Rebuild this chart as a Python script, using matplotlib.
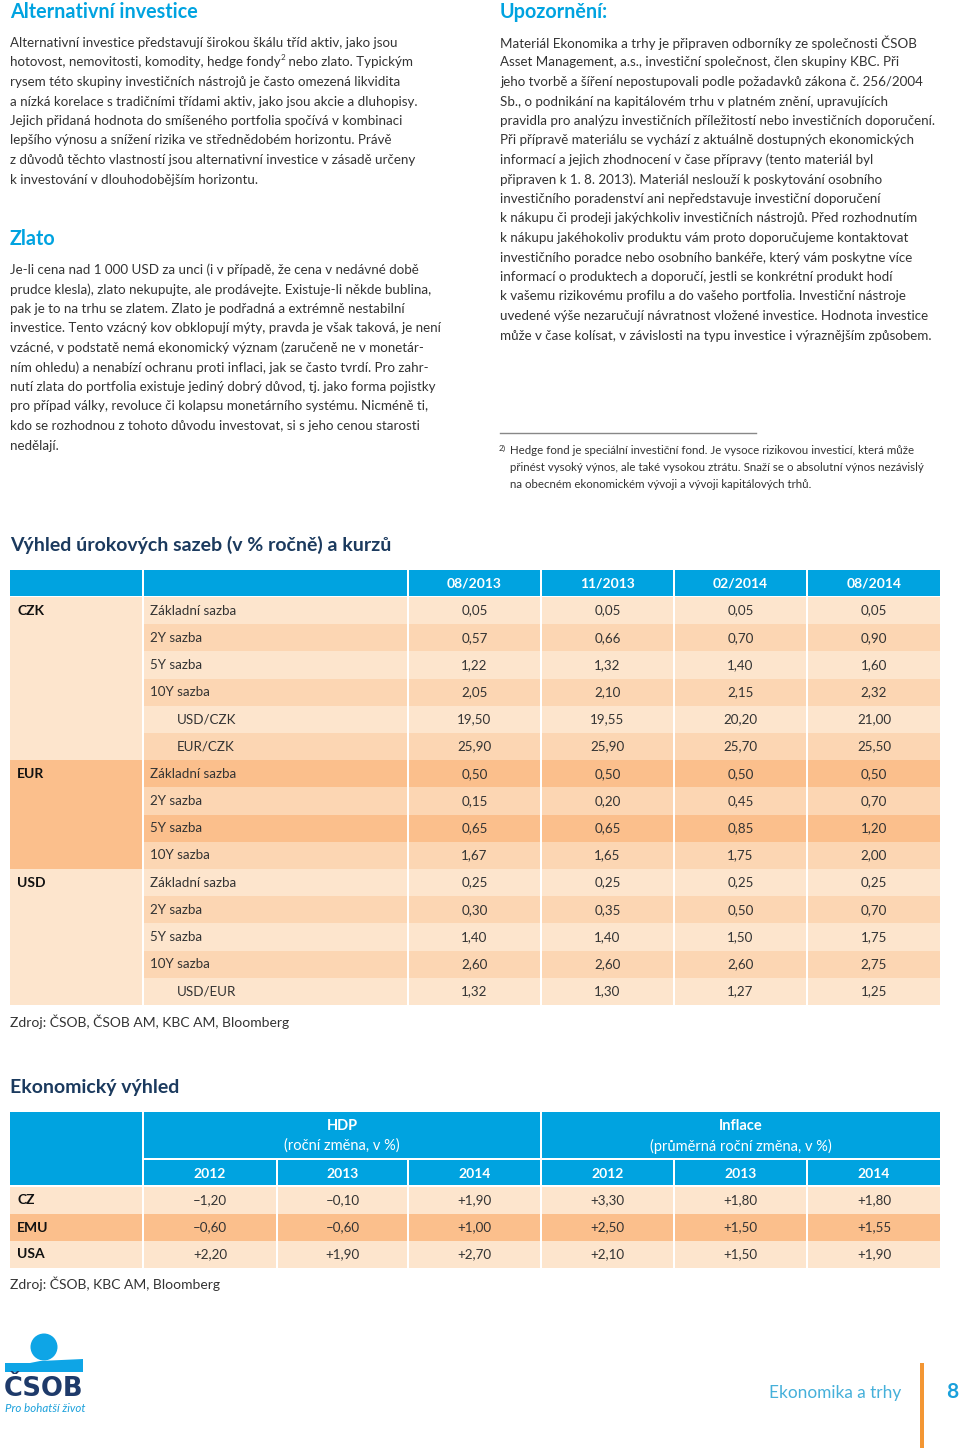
import matplotlib
matplotlib.use('Agg')
import matplotlib.pyplot as plt
from matplotlib.patches import Rectangle, Circle, Polygon

plt.rcParams['font.family'] = ['Lato', 'DejaVu Sans']

BLUE = '#00a3e0'
NAVY = '#1b3a5e'
TEXT = '#333333'
LIGHT = '#fde5cd'
MID = '#fcd6b3'
DARK = '#fbbf8c'

# ---- text blocks ----
alt_title = 'Alternativní investice'
alt_lines = [
    'Alternativní investice představují širokou škálu tříd aktiv, jako jsou',
    ('hotovost, nemovitosti, komodity, hedge fondy', '2', ' nebo zlato. Typickým'),
    'rysem této skupiny investičních nástrojů je často omezená likvidita',
    'a nízká korelace s tradičními třídami aktiv, jako jsou akcie a dluhopisy.',
    'Jejich přidaná hodnota do smíšeného portfolia spočívá v kombinaci',
    'lepšího výnosu a snížení rizika ve střednědobém horizontu. Právě',
    'z důvodů těchto vlastností jsou alternativní investice v zásadě určeny',
    'k investování v dlouhodobějším horizontu.',
]
zlato_title = 'Zlato'
zlato_lines = [
    'Je-li cena nad 1 000 USD za unci (i v případě, že cena v nedávné době',
    'prudce klesla), zlato nekupujte, ale prodávejte. Existuje-li někde bublina,',
    'pak je to na trhu se zlatem. Zlato je podřadná a extrémně nestabilní',
    'investice. Tento vzácný kov obklopují mýty, pravda je však taková, je není',
    'vzácné, v podstatě nemá ekonomický význam (zaručeně ne v monetár-',
    'ním ohledu) a nenabízí ochranu proti inflaci, jak se často tvrdí. Pro zahr-',
    'nutí zlata do portfolia existuje jediný dobrý důvod, tj. jako forma pojistky',
    'pro případ války, revoluce či kolapsu monetárního systému. Nicméně ti,',
    'kdo se rozhodnou z tohoto důvodu investovat, si s jeho cenou starosti',
    'nedělají.',
]
warn_title = 'Upozornění:'
warn_lines = [
    'Materiál Ekonomika a trhy je připraven odborníky ze společnosti ČSOB',
    'Asset Management, a.s., investiční společnost, člen skupiny KBC. Při',
    'jeho tvorbě a šíření nepostupovali podle požadavků zákona č. 256/2004',
    'Sb., o podnikání na kapitálovém trhu v platném znění, upravujících',
    'pravidla pro analýzu investičních příležitostí nebo investičních doporučení.',
    'Při přípravě materiálu se vychází z aktuálně dostupných ekonomických',
    'informací a jejich zhodnocení v čase přípravy (tento materiál byl',
    'připraven k 1. 8. 2013). Materiál neslouží k poskytování osobního',
    'investičního poradenství ani nepředstavuje investiční doporučení',
    'k nákupu či prodeji jakýchkoliv investičních nástrojů. Před rozhodnutím',
    'k nákupu jakéhokoliv produktu vám proto doporučujeme kontaktovat',
    'investičního poradce nebo osobního bankéře, který vám poskytne více',
    'informací o produktech a doporučí, jestli se konkrétní produkt hodí',
    'k vašemu rizikovému profilu a do vašeho portfolia. Investiční nástroje',
    'uvedené výše nezaručují návratnost vložené investice. Hodnota investice',
    'může v čase kolísat, v závislosti na typu investice i výraznějším způsobem.',
]
note_mark = '2)'
note_lines = [
    'Hedge fond je speciální investiční fond. Je vysoce rizikovou investicí, která může',
    'přinést vysoký výnos, ale také vysokou ztrátu. Snaží se o absolutní výnos nezávislý',
    'na obecném ekonomickém vývoji a vývoji kapitálových trhů.',
]

# ---- table 1: interest rates ----
rates_title = 'Výhled úrokových sazeb (v % ročně) a kurzů'
rates_dates = ['08/2013', '11/2013', '02/2014', '08/2014']
rates_groups = ['CZK', 'EUR', 'USD']
rates_labels = [
    ['Základní sazba', '2Y sazba', '5Y sazba', '10Y sazba', 'USD/CZK', 'EUR/CZK'],
    ['Základní sazba', '2Y sazba', '5Y sazba', '10Y sazba'],
    ['Základní sazba', '2Y sazba', '5Y sazba', '10Y sazba', 'USD/EUR'],
]
rates_czk = [[0.05, 0.05, 0.05, 0.05], [0.57, 0.66, 0.70, 0.90], [1.22, 1.32, 1.40, 1.60],
             [2.05, 2.10, 2.15, 2.32], [19.50, 19.55, 20.20, 21.00], [25.90, 25.90, 25.70, 25.50]]
rates_eur = [[0.50, 0.50, 0.50, 0.50], [0.15, 0.20, 0.45, 0.70], [0.65, 0.65, 0.85, 1.20],
             [1.67, 1.65, 1.75, 2.00]]
rates_usd = [[0.25, 0.25, 0.25, 0.25], [0.30, 0.35, 0.50, 0.70], [1.40, 1.40, 1.50, 1.75],
             [2.60, 2.60, 2.60, 2.75], [1.32, 1.30, 1.27, 1.25]]
rates_source = 'Zdroj: ČSOB, ČSOB AM, KBC AM, Bloomberg'

# ---- table 2: economic outlook ----
econ_title = 'Ekonomický výhled'
econ_years = ['2012', '2013', '2014']
econ_rows = ['CZ', 'EMU', 'USA']
hdp = [[-1.20, -0.10, 1.90], [-0.60, -0.60, 1.00], [2.20, 1.90, 2.70]]
inflace = [[3.30, 1.80, 1.80], [2.50, 1.50, 1.55], [2.10, 1.50, 1.90]]
econ_source = 'Zdroj: ČSOB, KBC AM, Bloomberg'


def fmt(v, sign=False):
    s = '{:.2f}'.format(abs(v)).replace('.', ',')
    if sign:
        return ('\u2013' if v < 0 else '+') + s
    return s


fig = plt.figure(figsize=(9.6, 14.48), dpi=100)
ax = fig.add_axes([0, 0, 1, 1])
ax.set_xlim(0, 960)
ax.set_ylim(1448, 0)
ax.axis('off')
renderer = fig.canvas.get_renderer()

BODY = 9.6


def pieces(x, y, parts, size=BODY, color=TEXT):
    # draws text parts one after another, odd parts as superscript
    for i, p in enumerate(parts):
        sup = i % 2 == 1
        t = ax.text(x, y - (5 if sup else 0), p, fontsize=size * (0.6 if sup else 1),
                    color=color, va='center', ha='left')
        x += t.get_window_extent(renderer).width


def para(x, y0, lines, step=19.5, size=BODY):
    for i, ln in enumerate(lines):
        y = y0 + i * step
        if isinstance(ln, tuple):
            pieces(x, y, ln, size)
        else:
            ax.text(x, y, ln, fontsize=size, color=TEXT, va='center', ha='left')


ax.text(10, 12, alt_title, fontsize=14.2, fontweight='bold', color=BLUE, va='center')
para(10, 43, alt_lines)
ax.text(10, 239, zlato_title, fontsize=14.2, fontweight='bold', color=BLUE, va='center')
para(10, 270, zlato_lines)
ax.text(500, 12, warn_title, fontsize=14.2, fontweight='bold', color=BLUE, va='center')
para(500, 43, warn_lines)

ax.plot([500, 756], [433, 433], color='#888888', lw=1)
ax.text(499, 448, note_mark, fontsize=6, color=TEXT, va='center')
para(510, 451, note_lines, step=16.6, size=8.3)

# ---- table 1 ----
ax.text(10, 545, rates_title, fontsize=14, fontweight='bold', color=NAVY, va='center')
col_x = [10, 144, 409, 542, 675, 808]
col_w = [132, 263, 131, 131, 131, 132]
hdr_y, hdr_h = 570, 26
row_h = 27.2
for cx, cw in zip(col_x, col_w):
    ax.add_patch(Rectangle((cx, hdr_y), cw, hdr_h, color=BLUE, lw=0))
for j, d in enumerate(rates_dates):
    ax.text(col_x[j + 2] + col_w[j + 2] / 2, hdr_y + hdr_h / 2 + 1, d, fontsize=10,
            fontweight='bold', color='white', ha='center', va='center')

values = [rates_czk, rates_eur, rates_usd]
group_color = [LIGHT, DARK, LIGHT]
y = hdr_y + hdr_h + 1
for g, grp in enumerate(rates_groups):
    n = len(rates_labels[g])
    ax.add_patch(Rectangle((col_x[0], y), col_w[0], n * row_h, color=group_color[g], lw=0))
    ax.text(17, y + row_h / 2, grp, fontsize=10, fontweight='bold', color='#111111', va='center')
    for r in range(n):
        ry = y + r * row_h
        c = group_color[g] if r % 2 == 0 else MID
        for k in range(1, 6):
            ax.add_patch(Rectangle((col_x[k], ry), col_w[k], row_h, color=c, lw=0))
        lab = rates_labels[g][r]
        lx = 177 if '/' in lab else 150
        ax.text(lx, ry + row_h / 2, lab, fontsize=BODY, color=TEXT, va='center')
        for j, v in enumerate(values[g][r]):
            ax.text(col_x[j + 2] + col_w[j + 2] / 2, ry + row_h / 2, fmt(v), fontsize=BODY,
                    color=TEXT, ha='center', va='center')
    y += n * row_h
ax.text(10, y + 17, rates_source, fontsize=BODY + 0.4, color=TEXT, va='center')

# ---- table 2 ----
ax.text(10, 1087, econ_title, fontsize=14, fontweight='bold', color=NAVY, va='center')
e_x = [10, 144, 278, 409, 542, 675, 808]
e_w = [132, 132, 129, 131, 131, 131, 132]
top_y, top_h = 1112, 46
yr_y, yr_h = 1160, 25
ax.add_patch(Rectangle((e_x[0], top_y), e_w[0], top_h + 2 + yr_h, color=BLUE, lw=0))
ax.add_patch(Rectangle((144, top_y), 396, top_h, color=BLUE, lw=0))
ax.add_patch(Rectangle((542, top_y), 398, top_h, color=BLUE, lw=0))
for cx, cap, sub in [(342, 'HDP', '(roční změna, v %)'),
                     (741, 'Inflace', '(průměrná roční změna, v %)')]:
    ax.text(cx, 1126, cap, fontsize=10.5, fontweight='bold', color='white', ha='center', va='center')
    ax.text(cx, 1146, sub, fontsize=10.5, color='white', ha='center', va='center')
for k in range(1, 7):
    ax.add_patch(Rectangle((e_x[k], yr_y), e_w[k], yr_h, color=BLUE, lw=0))
    ax.text(e_x[k] + e_w[k] / 2, yr_y + yr_h / 2 + 1, econ_years[(k - 1) % 3], fontsize=10,
            fontweight='bold', color='white', ha='center', va='center')
er_h = 27
for r, name in enumerate(econ_rows):
    ry = yr_y + yr_h + 2 + r * er_h
    c = DARK if r == 1 else LIGHT
    for k in range(7):
        ax.add_patch(Rectangle((e_x[k], ry), e_w[k], er_h, color=c, lw=0))
    ax.text(17, ry + er_h / 2, name, fontsize=10, fontweight='bold', color='#111111', va='center')
    for j, v in enumerate(hdp[r] + inflace[r]):
        ax.text(e_x[j + 1] + e_w[j + 1] / 2, ry + er_h / 2, fmt(v, True), fontsize=BODY,
                color=TEXT, ha='center', va='center')
ax.text(10, 1284, econ_source, fontsize=BODY + 0.4, color=TEXT, va='center')

# ---- logo and footer ----
ax.add_patch(Circle((44, 1347), 13.5, color='#0ea5e6', lw=0))
ax.add_patch(Polygon([(5, 1363), (30, 1363), (40, 1361), (83, 1359), (83, 1372), (5, 1372)],
                     closed=True, color='#0ea5e6', lw=0))
ax.text(4, 1389, 'ČSOB', fontsize=18.5, fontweight='heavy', color='#1e3a6a', va='center',
        family=['DejaVu Sans'])
ax.text(5, 1409, 'Pro bohatší život', fontsize=8.3, style='italic', color='#1aa0db', va='center')

ax.text(901, 1393, 'Ekonomika a trhy', fontsize=12.4, color='#45b0da', ha='right', va='center')
ax.add_patch(Rectangle((920, 1363), 4, 85, color='#f39633', lw=0))
ax.text(946, 1392, '8', fontsize=15, fontweight='bold', color='#1aa0db', va='center')

plt.savefig('out.png', dpi=100)
